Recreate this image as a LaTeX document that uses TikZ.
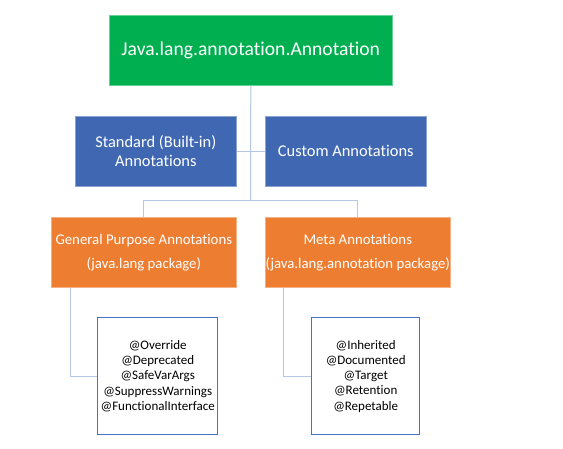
\documentclass[tikz,border=0pt]{standalone}
\usepackage{fontspec}
\setmainfont[Ligatures=NoCommon]{Carlito}
\definecolor{cgreen}{HTML}{00B050}
\definecolor{cblue}{HTML}{4068B2}
\definecolor{corange}{HTML}{ED7D31}
\definecolor{cline}{HTML}{B4C7E7}
\definecolor{cborder}{HTML}{4472C4}
\begin{document}
\begin{tikzpicture}[x=1pt,y=-1pt,
  boxbase/.style={anchor=north west,inner sep=0pt,align=center,text=white},
  greenbox/.style={boxbase,fill=cgreen,draw=cgreen!60!white,line width=0.6pt,font=\fontsize{19.6}{23}\selectfont},
  bluebox/.style={boxbase,fill=cblue,draw=cblue!60!white,line width=0.6pt,font=\fontsize{16.4}{19}\selectfont},
  orangebox/.style={boxbase,fill=corange,draw=corange!60!white,line width=0.6pt,font=\fontsize{14.8}{24}\selectfont},
  listbox/.style={anchor=north west,inner sep=0pt,align=center,draw=cborder,line width=1.4pt,fill=white,text=black,font=\fontsize{13}{15.3}\selectfont},
  conn/.style={draw=cline,line width=1pt}]
\useasboundingbox (0,0) rectangle (563,449);
\fill[white] (0,0) rectangle (563,449);
\node[greenbox,minimum width=283pt,minimum height=70pt] (root) at (109,15) {Java.lang.annotation.Annotation};
\node[bluebox,minimum width=161pt,minimum height=70pt] (std) at (75,116) {Standard (Built-in)\\Annotations};
\node[bluebox,minimum width=161pt,minimum height=70pt] (cust) at (265,116) {Custom Annotations};
\node[orangebox,minimum width=185pt,minimum height=70pt] (gen) at (51,217) {General Purpose Annotations\\(java.lang package)};
\node[orangebox,minimum width=185pt,minimum height=70pt] (meta) at (265,217) {Meta Annotations\\(java.lang.annotation package)};
\node[listbox,minimum width=120pt,minimum height=117pt] (glist) at (97,317) {@Override\\@Deprecated\\@SafeVarArgs\\@SuppressWarnings\\@FunctionalInterface};
\node[listbox,minimum width=108pt,minimum height=117pt] (mlist) at (311,317) {@Inherited\\@Documented\\@Target\\@Retention\\@Repetable};
\coordinate (hub) at (250.5,201);
\begin{scope}[on background layer/.try]
\draw[conn] (root.south) -- (hub);
\draw[conn] (std.east) -- (cust.west);
\draw[conn] (gen.north) -- (gen.north |- hub) -- (meta.north |- hub) -- (meta.north);
\draw[conn] (gen.south west) ++(19,0) coordinate (gs) -- (gs |- glist.west) -- (glist.west);
\draw[conn] (meta.south west) ++(18,0) coordinate (ms) -- (ms |- mlist.west) -- (mlist.west);
\end{scope}
\end{tikzpicture}
\end{document}
